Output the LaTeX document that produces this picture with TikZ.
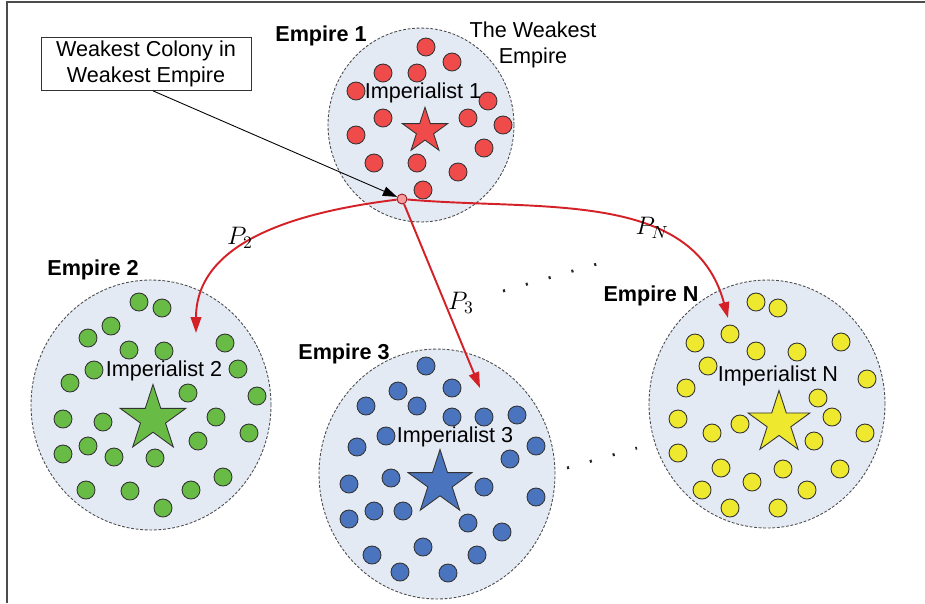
\documentclass[tikz,border=0pt]{standalone}
\usepackage{fontspec}
\setmainfont{Liberation Sans}
\usetikzlibrary{shapes.geometric,arrows.meta}
\definecolor{empireFill}{HTML}{E4EAF4}
\definecolor{redCol}{HTML}{F04B4B}
\definecolor{greenCol}{HTML}{68BC45}
\definecolor{blueCol}{HTML}{4A74BE}
\definecolor{yellowCol}{HTML}{EEE82E}
\definecolor{moveRed}{HTML}{D42127}
\newcommand\labelFont{\fontsize{12.3}{14.7}\selectfont}

\tikzset{
  empire/.style={ellipse, draw=black!70, dash pattern=on 1.6pt off 1pt, line width=0.5pt, fill=empireFill, inner sep=0pt},
  colony/.style={circle, draw=black!80, line width=0.5pt, fill=#1, minimum size=0.36cm, inner sep=0pt},
  imperialist/.style={star, star points=5, star point ratio=2.618, draw=black!80, line width=0.5pt, fill=#1, inner sep=0pt},
  move/.style={moveRed, line width=1.1pt, -{Triangle[length=9pt,width=6pt]}},
  gapdots/.style={black!85, line width=1.6pt, dash pattern=on 1.2pt off 12.3pt},
}

\begin{document}
\begin{tikzpicture}[x=0.02cm, y=-0.02cm, font=\labelFont]
    \useasboundingbox (0,0) rectangle (925,603);
    \draw[line width=1.2pt, black!70] (7,603) -- (7,2) -- (925,2);

    \node[empire, minimum width=3.72cm, minimum height=3.88cm] (emp1) at (421,125) {};
    \node[empire, minimum width=4.8cm, minimum height=5cm] (emp2) at (151,405) {};
    \node[empire, minimum width=4.72cm, minimum height=5cm] (emp3) at (437,474) {};
    \node[empire, minimum width=4.72cm, minimum height=4.96cm] (empN) at (767,404) {};

    \foreach \x/\y [count=\n] in {426/47, 452/62, 383/73, 417/73, 356/91, 488/101, 383/118, 468/118,
        503/125, 356/135, 484/148, 374/163, 417/163, 458/172, 423/190}
        \node[colony=redCol] (col1-\n) at (\x,\y) {};
    \foreach \x/\y [count=\n] in {139/302, 162/308, 111/326, 88/338, 129/350, 164/351, 225/343, 94/370,
        238/369, 70/383, 188/393, 257/396, 63/419, 103/422, 216/417, 249/433, 88/446, 63/454, 114/457,
        155/458, 198/441, 223/477, 86/490, 130/491, 191/490, 163/508}
        \node[colony=greenCol] (col2-\n) at (\x,\y) {};
    \foreach \x/\y [count=\n] in {426/366, 398/391, 452/388, 366/406, 417/406, 452/417, 484/417, 517/415,
        386/436, 357/447, 536/446, 510/459, 391/478, 349/484, 484/487, 536/497, 374/511, 403/511, 349/519,
        468/523, 502/532, 423/547, 372/555, 477/555, 400/572, 448/573}
        \node[colony=blueCol] (col3-\n) at (\x,\y) {};
    \foreach \x/\y [count=\n] in {756/302, 778/308, 730/334, 695/343, 756/351, 797/352, 841/342, 708/366,
        867/379, 686/388, 818/398, 678/419, 832/417, 740/424, 712/433, 814/441, 865/433, 678/453, 721/468,
        783/469, 840/469, 752/482, 702/490, 807/490, 730/508, 778/508}
        \node[colony=yellowCol] (colN-\n) at (\x,\y) {};

    \node[imperialist=redCol, minimum size=0.95cm] (imp1) at (425,131) {};
    \node[imperialist=greenCol, minimum size=1.38cm] (imp2) at (153,419) {};
    \node[imperialist=blueCol, minimum size=1.34cm] (imp3) at (440,483) {};
    \node[imperialist=yellowCol, minimum size=1.3cm] (impN) at (779,423) {};

    \node (lbimp1) at (423,93) {Imperialist 1};
    \node (lbimp2) at (164,371) {Imperialist 2};
    \node (lbimp3) at (455,437) {Imperialist 3};
    \node (lbimpN) at (778,376) {Imperialist N};

    \node[font=\labelFont\bfseries] (lbemp1) at (321,36) {Empire 1};
    \node[font=\labelFont\bfseries] (lbemp2) at (93,270) {Empire 2};
    \node[font=\labelFont\bfseries] (lbemp3) at (344,354) {Empire 3};
    \node[font=\labelFont\bfseries] (lbempN) at (651,296) {Empire N};
    \node[align=center] (weakest) at (533,45) {The Weakest\\Empire};

    \node[circle, draw=moveRed!70!black, fill=redCol!55!white, line width=0.5pt, minimum size=0.2cm, inner sep=0pt] (weak) at (402,199) {};

    \node[draw=black!80, fill=white, align=center, minimum width=4.2cm, minimum height=1.06cm, inner sep=0pt] (note) at (146,64) {Weakest Colony in\\Weakest Empire};
    \draw[line width=0.5pt, -{Triangle[length=8pt,width=5.5pt]}] ([xshift=0.14cm]note.south) -- (weak);

    \coordinate (p2end) at (196,333);
    \coordinate (p3end) at (480,388);
    \coordinate (pNend) at (728,318);
    \draw[move] (weak) to[out=187, in=90] (p2end);
    \draw[move] (weak) -- (p3end);
    \draw[move] (weak) to[out=-5, in=105] (pNend);

    \node[font=\fontsize{14}{16}\selectfont] (lbp2) at (240,238) {$P_2$};
    \node[font=\fontsize{14}{16}\selectfont] (lbp3) at (461,303) {$P_3$};
    \node[font=\fontsize{14}{16}\selectfont] (lbpN) at (652,228) {$P_N$};

    \draw[gapdots] (503,291) -- (597,264);
    \draw[gapdots] (567,468) -- (637,448);
\end{tikzpicture}
\end{document}
